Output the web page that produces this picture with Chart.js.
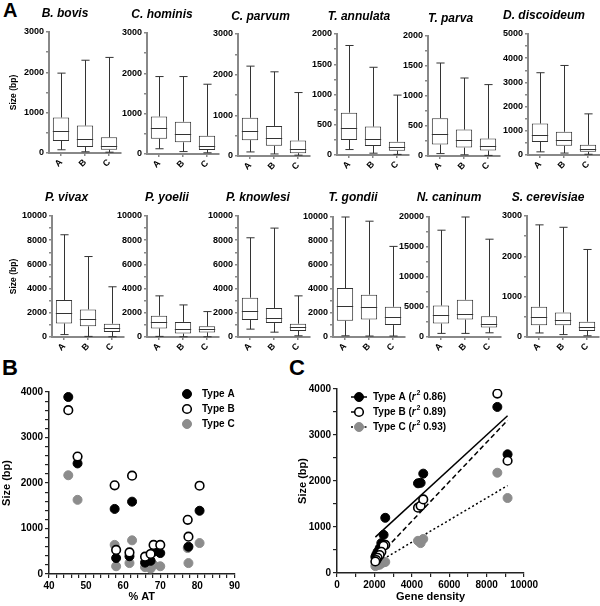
<!DOCTYPE html>
<html>
<head>
<meta charset="utf-8">
<script src="https://cdn.jsdelivr.net/npm/chart.js@4.4.0/dist/chart.umd.min.js"></script>
<style>
  body { margin: 0; width: 600px; height: 606px; position: relative; overflow: hidden; background: #fff; font-family: "Liberation Sans", Arial, sans-serif; }
  canvas { position: absolute; }
  .panel { position: absolute; font-weight: bold; line-height: 1; }
</style>
</head>
<body>
<div class="panel" style="left:3px;top:0px;font-size:20px">A</div>
<div class="panel" style="left:2px;top:357px;font-size:22px">B</div>
<div class="panel" style="left:289px;top:357px;font-size:22px">C</div>
<script>
// ---- data: panel A (box plots, size in bp) ----
const groups = ["A", "B", "C"];
const species = ["B. bovis", "C. hominis", "C. parvum", "T. annulata", "T. parva", "D. discoideum",
  "P. vivax", "P. yoelii", "P. knowlesi", "T. gondii", "N. caninum", "S. cerevisiae"];
const sizeMin = [[80, 30, 20], [130, 60, 30], [100, 50, 20], [90, 30, 10], [40, 20, 10], [130, 80, 30],
  [200, 50, 20], [50, 20, 20], [650, 400, 100], [100, 80, 80], [600, 600, 700], [100, 60, 30]];
const sizeQ1 = [[300, 150, 80], [380, 290, 100], [390, 250, 70], [250, 150, 70], [190, 140, 90], [540, 380, 130],
  [1120, 880, 420], [710, 280, 380], [1400, 1150, 500], [1350, 1460, 990], [2250, 2900, 1600], [290, 290, 150]];
const sizeMedian = [[540, 350, 180], [640, 490, 210], [620, 450, 180], [440, 270, 130], [370, 260, 160], [830, 600, 260],
  [2000, 1450, 780], [1200, 620, 620], [2150, 1600, 800], [2620, 2460, 1630], [3700, 3900, 2250], [500, 410, 250]];
const sizeQ3 = [[880, 680, 390], [930, 800, 450], [940, 740, 380], [700, 470, 220], [630, 440, 290], [1300, 960, 420],
  [3060, 2280, 1100], [1760, 1250, 880], [3250, 2400, 1100], [4080, 3530, 2520], [5250, 6200, 3450], [750, 610, 380]];
const sizeMax = [[1980, 2300, 2370], [1920, 1920, 1730], [2210, 2070, 1560], [1810, 1450, 990], [1550, 1300, 1190], [3400, 3700, 1700],
  [8450, 6650, 4150], [3400, 2650, 2100], [8200, 9000, 3400], [10000, 9650, 7550], [17800, 20000, 16300], [2780, 2720, 2170]];
const axisMax = [3000, 3000, 3000, 2000, 2000, 5000, 10000, 10000, 10000, 10000, 20000, 3000];
const axisMajor = [1000, 1000, 1000, 500, 500, 1000, 2000, 2000, 2000, 2000, 5000, 1000];

// ---- data: panel B (size vs % AT) ----
const atContent = [45.2, 47.7, 57.7, 58.1, 61.7, 62.4, 65.9, 67.4, 68.2, 70.0, 77.4, 77.6, 80.6];
const atSizeA = [3890, 2430, 1430, 350, 390, 1590, 250, 290, 490, 460, null, 600, 1390];
const atSizeB = [3600, 2580, 1950, 530, 475, 2160, 380, 440, 640, 640, 1190, 820, 1940];
const atSizeC = [2170, 1630, 640, 170, 240, 740, 150, 120, 200, 170, 570, 240, 680];

// ---- data: panel C (size vs gene density) ----
const geneDensity = [8570, 9117, 4330, 4470, 4610, 2580, 2490, 2370, 2280, 2170, 2100, 2050];
const densSizeA = [3610, 2580, 1950, 1960, 2160, 1200, 830, 650, 540, 460, 400, 350];
const densSizeB = [3900, 2440, 1420, 1460, 1600, 610, 590, 460, 390, 330, 280, 250];
const densSizeC = [2180, 1630, 700, 650, 740, 240, 230, 217, 180, 174, 246, 150];
const fitDensity = [2050, 9117];
const fitA = [780, 3420];
const fitB = [290, 3320];
const fitC = [200, 1900];
const rSquared = ["0.86", "0.89", "0.93"];

const FONT = '"Liberation Sans", Arial, sans-serif';
Chart.defaults.font.family = FONT;
Chart.defaults.color = "#000";

// layout of the small box plots: axis x, max px, zero px, title centre x / y
const boxLayout = [
  [49, 32, 153, 71, 13], [147, 33, 154, 163, 14], [238, 34, 156, 262, 16],
  [337, 34, 155, 360, 16], [428, 36, 156, 452, 18], [528, 34, 155, 545, 15],
  [52, 216, 337, 73, 197], [147, 216, 337, 169, 197], [238, 216, 337, 260, 197],
  [333, 217, 337, 354, 197], [429, 217, 337, 450, 197], [527, 216, 337, 549, 197]
];
const PLOT_W = 72;

function addCanvas(left, top, w, h) {
  const c = document.createElement("canvas");
  c.width = w; c.height = h;
  c.style.left = left + "px"; c.style.top = top + "px";
  document.body.appendChild(c);
  return c;
}

// whiskers + median lines on top of the floating bars
function whiskerPlugin(k) {
  return {
    id: "whiskers" + k,
    afterDatasetsDraw(chart) {
      const ctx = chart.ctx, y = chart.scales.y;
      ctx.save();
      ctx.strokeStyle = "#333";
      ctx.lineWidth = 1;
      chart.getDatasetMeta(0).data.forEach((bar, i) => {
        const x = Math.round(bar.x) + 0.5, half = bar.width / 2, cap = bar.width / 4;
        const hi = y.getPixelForValue(sizeMax[k][i]), lo = y.getPixelForValue(sizeMin[k][i]);
        const q1 = y.getPixelForValue(sizeQ1[k][i]), q3 = y.getPixelForValue(sizeQ3[k][i]);
        const med = Math.round(y.getPixelForValue(sizeMedian[k][i])) + 0.5;
        ctx.beginPath();
        ctx.moveTo(x, q3); ctx.lineTo(x, hi);
        ctx.moveTo(x - cap, hi); ctx.lineTo(x + cap, hi);
        ctx.moveTo(x, q1); ctx.lineTo(x, lo);
        ctx.moveTo(x - cap, lo); ctx.lineTo(x + cap, lo);
        ctx.moveTo(bar.x - half, med); ctx.lineTo(bar.x + half, med);
        ctx.stroke();
      });
      ctx.restore();
    }
  };
}

species.forEach((name, k) => {
  const [axisX, topPx, zeroPx, titleX, titleY] = boxLayout[k];
  const first = k % 6 === 0;
  const need = axisMax[k] >= 10000 ? 32 : 27;
  let yw = first ? axisX - 9 : Math.max(need, 2 * axisX + PLOT_W + 2 - 2 * titleX);
  const top = Math.round(titleY - 7.2);
  const w = yw + PLOT_W + 2;
  const h = zeroPx - top + 20;
  const canvas = addCanvas(axisX - yw, top, w, h);
  new Chart(canvas, {
    type: "bar",
    data: {
      labels: groups,
      datasets: [{
        data: sizeQ1[k].map((q, i) => [q, sizeQ3[k][i]]),
        backgroundColor: "#fff",
        borderColor: "#333",
        borderWidth: 1,
        borderSkipped: false,
        barPercentage: 0.68,
        categoryPercentage: 1
      }]
    },
    options: {
      responsive: false,
      animation: false,
      events: [],
      layout: { padding: { left: 0, right: 2, top: 0, bottom: 0 } },
      plugins: {
        legend: { display: false },
        tooltip: { enabled: false },
        title: {
          display: true,
          text: name,
          font: { size: 12, weight: "bold", style: "italic" },
          padding: { top: 0, bottom: topPx - top - 14.4 }
        }
      },
      scales: {
        x: {
          afterFit: s => { s.height = 20; },
          ticks: { minRotation: 45, maxRotation: 45, padding: 1, font: { size: 9, weight: "bold" } },
          grid: { drawOnChartArea: false, offset: false, tickLength: 3, color: "#888", lineWidth: 1.5 },
          border: { color: "#888", width: 2 }
        },
        y: {
          min: 0,
          max: axisMax[k],
          afterFit: s => { s.width = yw; },
          ticks: {
            stepSize: axisMajor[k] / 2,
            autoSkip: false,
            padding: 2,
            font: { size: 9, weight: "bold" },
            callback: v => (v % axisMajor[k] === 0 ? v : "")
          },
          grid: { drawOnChartArea: false, tickLength: 3, color: "#888", lineWidth: 1.5 },
          border: { color: "#888", width: 2 },
          title: { display: first, text: "Size (bp)", padding: 0, font: { size: 8.5, weight: "bold" } }
        }
      }
    },
    plugins: [whiskerPlugin(k)]
  });
});

// ---- scatter panels ----
function richText(ctx, parts, x, y) {
  parts.forEach(p => {
    ctx.font = (p.italic ? "italic " : "") + "bold " + (p.sup ? 7 : 10) + "px " + FONT;
    ctx.fillText(p.t, x, p.sup ? y - 4 : y);
    x += ctx.measureText(p.t).width + (p.italic ? 1 : 0);
  });
}

// legend drawn inside the plot area
function legendPlugin(entries, lx, ly, gap, textGap) {
  return {
    id: "insideLegend",
    afterDraw(chart) {
      const ctx = chart.ctx;
      ctx.save();
      ctx.textBaseline = "middle";
      ctx.fillStyle = "#000";
      entries.forEach((e, i) => {
        const y = ly + i * gap;
        const pts = chart.data.datasets[e.points];
        if (e.line !== undefined) {
          const ln = chart.data.datasets[e.line];
          ctx.strokeStyle = ln.borderColor;
          ctx.lineWidth = ln.borderWidth;
          ctx.setLineDash(ln.borderDash || []);
          ctx.beginPath(); ctx.moveTo(lx - 8, y); ctx.lineTo(lx + 8, y); ctx.stroke();
          ctx.setLineDash([]);
        }
        ctx.beginPath();
        ctx.arc(lx, y, pts.pointRadius, 0, Math.PI * 2);
        ctx.fillStyle = pts.backgroundColor; ctx.fill();
        ctx.lineWidth = pts.borderWidth; ctx.strokeStyle = pts.borderColor; ctx.stroke();
        ctx.fillStyle = "#000";
        richText(ctx, e.parts, lx + textGap, y);
      });
      ctx.restore();
    }
  };
}

function points(xs, ys) {
  return xs.map((x, i) => ({ x: x, y: ys[i] })).filter(p => p.y !== null);
}

const dotA = { label: "Type A", backgroundColor: "#000", borderColor: "#000", borderWidth: 1, pointRadius: 4.5 };
const dotB = { label: "Type B", backgroundColor: "#fff", borderColor: "#000", borderWidth: 1.6, pointRadius: 4.3 };
const dotC = { label: "Type C", backgroundColor: "#8c8c8c", borderColor: "#8c8c8c", borderWidth: 1, pointRadius: 4.5 };

function axisOpts(min, max, step, major, title, size, fit) {
  return {
    type: "linear", min: min, max: max,
    afterFit: fit,
    ticks: { stepSize: step, autoSkip: false, maxRotation: 0, padding: 2, font: { size: 10, weight: "bold" },
      callback: v => (v % major === 0 ? v : "") },
    grid: { drawOnChartArea: false, tickLength: 4, color: "#222", lineWidth: 1.2 },
    border: { color: "#222", width: 1.5 },
    title: { display: true, text: title, padding: 0, font: { size: size, weight: "bold" } }
  };
}

// panel B
new Chart(addCanvas(0, 378, 242, 226), {
  type: "scatter",
  data: {
    datasets: [
      Object.assign({ data: points(atContent, atSizeB) }, dotB),
      Object.assign({ data: points(atContent, atSizeA) }, dotA),
      Object.assign({ data: points(atContent, atSizeC) }, dotC)
    ]
  },
  options: {
    responsive: false, animation: false, events: [],
    layout: { padding: { left: 0, right: 6, top: 14, bottom: 0 } },
    plugins: { legend: { display: false }, tooltip: { enabled: false } },
    scales: {
      x: axisOpts(40, 90, 2, 10, "% AT", 11, s => { s.height = 30; }),
      y: axisOpts(0, 4000, 200, 1000, "Size (bp)", 11, s => { s.width = 49; })
    }
  },
  plugins: [legendPlugin([
    { points: 1, parts: [{ t: "Type A" }] },
    { points: 0, parts: [{ t: "Type B" }] },
    { points: 2, parts: [{ t: "Type C" }] }
  ], 187, 16, 15, 15)]
});

// panel C
const fitLine = (ys, dash) => ({
  data: points(fitDensity, ys), showLine: true, pointRadius: 0,
  borderColor: "#000", borderWidth: 1.5, borderDash: dash
});
new Chart(addCanvas(296, 378, 244, 226), {
  type: "scatter",
  data: {
    datasets: [
      Object.assign({ data: points(geneDensity, densSizeB) }, dotB),
      Object.assign({ data: points(geneDensity, densSizeA) }, dotA),
      Object.assign({ data: points(geneDensity, densSizeC) }, dotC),
      fitLine(fitA, []),
      fitLine(fitB, [5, 3]),
      fitLine(fitC, [2, 2.5])
    ]
  },
  options: {
    responsive: false, animation: false, events: [],
    layout: { padding: { left: 0, right: 14, top: 11, bottom: 0 } },
    plugins: { legend: { display: false }, tooltip: { enabled: false } },
    scales: {
      x: axisOpts(0, 10000, 1000, 2000, "Gene density", 11, s => { s.height = 31; }),
      y: axisOpts(0, 4000, 500, 1000, "Size (bp)", 11, s => { s.width = 41; })
    }
  },
  plugins: [legendPlugin(groups.map((g, i) => ({
    points: [1, 0, 2][i],
    line: 3 + i,
    parts: [{ t: "Type " + g + " (" }, { t: "r", italic: true }, { t: "2", sup: true }, { t: " " + rSquared[i] + ")" }]
  })), 63, 19, 15, 14)]
});
</script>
</body>
</html>
